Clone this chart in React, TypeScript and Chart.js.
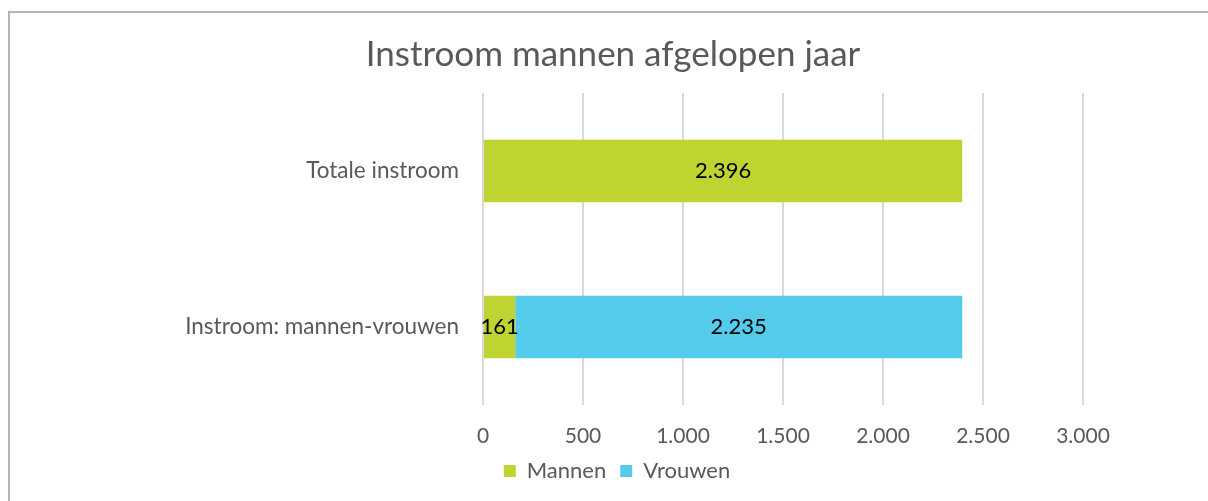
import { useEffect, useRef } from 'react';
import { Chart, registerables } from 'chart.js';

Chart.register(...registerables);

const titleText = 'Instroom mannen afgelopen jaar';
const categories = ['Totale instroom', 'Instroom: mannen-vrouwen'];
const mannen = [2396, 161];
const vrouwen = [0, 2235];
const xMin = 0;
const xMax = 3000;
const xStep = 500;

const GREEN = '#C0D431';
const BLUE = '#55CBEB';
const TEXT = '#595959';
const FONT = 'Lato';

const fmt = (v: number) => String(Math.round(v)).replace(/\B(?=(\d{3})+(?!\d))/g, '.');

const dataLabels = {
  id: 'dataLabels',
  afterDatasetsDraw(chart: any) {
    const ctx = chart.ctx;
    ctx.save();
    ctx.font = `22px ${FONT}`;
    ctx.fillStyle = '#000000';
    ctx.textAlign = 'center';
    ctx.textBaseline = 'middle';
    chart.data.datasets.forEach((ds: any, i: number) => {
      const meta = chart.getDatasetMeta(i);
      meta.data.forEach((bar: any, j: number) => {
        const v = ds.data[j];
        if (!v) return;
        const p = bar.getProps(['x', 'y', 'base'], true);
        ctx.fillText(fmt(v), (p.x + p.base) / 2, p.y);
      });
    });
    ctx.restore();
  },
};

// centre title and legend on the whole canvas (not only the padded area)
const centreBlocks = {
  id: 'centreBlocks',
  afterLayout(chart: any) {
    const t = chart.titleBlock;
    if (t) {
      t.left = 0;
      t.right = chart.width;
    }
    const l = chart.legend;
    if (l) {
      l.left = 4;
      l.right = chart.width + 4;
    }
  },
};

export default function App() {
  const ref = useRef<HTMLCanvasElement | null>(null);

  useEffect(() => {
    if (!ref.current) return;
    const chart = new Chart(ref.current, {
      type: 'bar',
      data: {
        labels: categories,
        datasets: [
          {
            label: 'Mannen',
            data: mannen,
            backgroundColor: GREEN,
            borderWidth: 0,
            categoryPercentage: 0.8,
            barPercentage: 0.5,
          },
          {
            label: 'Vrouwen',
            data: vrouwen,
            backgroundColor: BLUE,
            borderWidth: 0,
            categoryPercentage: 0.8,
            barPercentage: 0.5,
          },
        ],
      },
      options: {
        indexAxis: 'y',
        animation: false,
        responsive: false,
        maintainAspectRatio: false,
        layout: { padding: { left: 0, right: 135, top: 0, bottom: 9 } },
        scales: {
          x: {
            stacked: true,
            min: xMin,
            max: xMax,
            ticks: {
              stepSize: xStep,
              color: TEXT,
              font: { family: FONT, size: 21 },
              padding: 19,
              callback: (v: any) => fmt(Number(v)),
            },
            grid: { color: '#D9D9D9', lineWidth: 2, drawTicks: false },
            border: { display: false },
            afterFit: (s: any) => {
              s.height = 41;
            },
          },
          y: {
            stacked: true,
            ticks: {
              color: TEXT,
              font: { family: FONT, size: 22.5 },
              padding: 24,
            },
            grid: { display: false, drawTicks: false },
            border: { display: false },
            afterFit: (s: any) => {
              s.width = 475;
            },
          },
        },
        plugins: {
          title: {
            display: true,
            text: titleText,
            color: TEXT,
            font: { family: FONT, size: 35, weight: 'normal' },
            padding: { top: 34, bottom: 17 },
          },
          legend: {
            display: true,
            position: 'bottom',
            labels: {
              color: TEXT,
              font: { family: FONT, size: 22 },
              boxWidth: 12,
              boxHeight: 12,
              padding: 14,
            },
          },
          tooltip: { enabled: false },
        },
      },
      plugins: [dataLabels, centreBlocks],
    });
    return () => chart.destroy();
  }, []);

  return (
    <div
      style={{
        position: 'fixed',
        left: 0,
        top: 0,
        width: 1208,
        height: 501,
        overflow: 'hidden',
        background: '#ffffff',
      }}
    >
      <div
        style={{
          position: 'absolute',
          left: 8,
          top: 11,
          width: 1300,
          height: 600,
          border: '2px solid #B4B4B4',
          boxSizing: 'border-box',
        }}
      />
      <canvas
        ref={ref}
        width={1210}
        height={501}
        style={{ position: 'absolute', left: 8, top: 0, width: 1210, height: 501 }}
      />
    </div>
  );
}
